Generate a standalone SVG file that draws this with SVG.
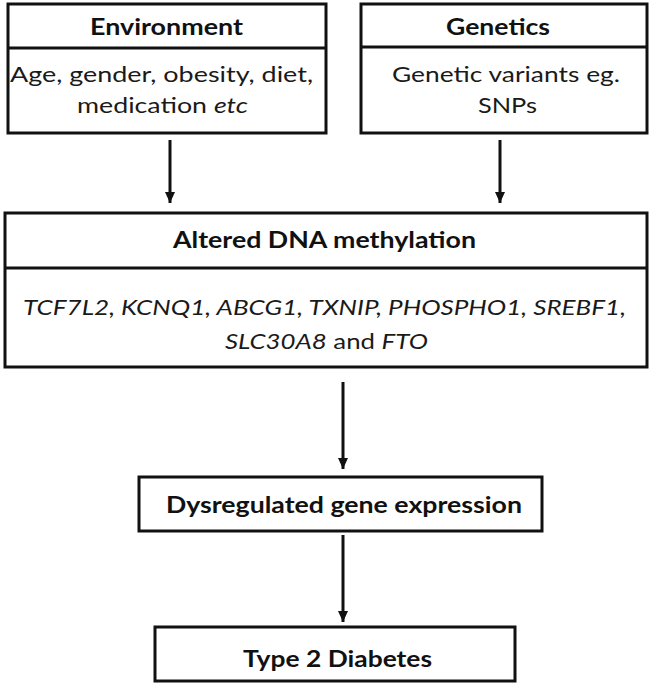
<svg xmlns="http://www.w3.org/2000/svg" width="653" height="686" viewBox="0 0 653 686">
<defs>
<marker id="arr" markerUnits="userSpaceOnUse" markerWidth="12" markerHeight="12" viewBox="0 0 12 12" refX="11" refY="6" orient="auto">
<path d="M0,1 L11,6 L0,11 Z" fill="#111"/>
</marker>
<style>
.box{fill:#fff;stroke:#111;stroke-width:3}
.div{stroke:#111;stroke-width:3}
.t{font-family:Lato,"Open Sans","Liberation Sans",sans-serif;font-size:22px;fill:#1a1a1a}
.b{font-weight:bold;fill:#111}
.i{font-style:italic}
.c{stroke:#111;stroke-width:3;fill:none}
</style>
</defs>
<rect width="653" height="686" fill="#fff"/>
<g id="environment">
<rect class="box" x="8" y="4" width="318" height="129"/>
<line class="div" x1="8" y1="48" x2="326" y2="48"/>
<text class="t b" x="90" y="35" textLength="153" lengthAdjust="spacingAndGlyphs">Environment</text>
<text class="t" x="10" y="82" textLength="303" lengthAdjust="spacingAndGlyphs">Age, gender, obesity, diet,</text>
<text class="t" x="77" y="113" textLength="171" lengthAdjust="spacingAndGlyphs">medication <tspan class="i">etc</tspan></text>
</g>
<g id="genetics">
<rect class="box" x="361" y="4" width="286" height="129"/>
<line class="div" x1="361" y1="47" x2="647" y2="47"/>
<text class="t b" x="446" y="35" textLength="104" lengthAdjust="spacingAndGlyphs">Genetics</text>
<text class="t" x="392" y="82" textLength="228" lengthAdjust="spacingAndGlyphs">Genetic variants eg.</text>
<text class="t" x="478" y="113" textLength="59" lengthAdjust="spacingAndGlyphs">SNPs</text>
</g>
<g id="methylation">
<rect class="box" x="5" y="213" width="642" height="154"/>
<line class="div" x1="5" y1="268" x2="647" y2="268"/>
<text class="t b" x="173" y="248" textLength="303" lengthAdjust="spacingAndGlyphs">Altered DNA methylation</text>
<text class="t i" x="23" y="315" textLength="603" lengthAdjust="spacingAndGlyphs">TCF7L2, KCNQ1, ABCG1, TXNIP, PHOSPHO1, SREBF1,</text>
<text class="t" x="225" y="349" textLength="203" lengthAdjust="spacingAndGlyphs"><tspan class="i">SLC30A8</tspan> and <tspan class="i">FTO</tspan></text>
</g>
<g id="expression">
<rect class="box" x="139" y="477" width="403" height="54"/>
<text class="t b" x="166" y="513" textLength="356" lengthAdjust="spacingAndGlyphs">Dysregulated gene expression</text>
</g>
<g id="t2d">
<rect class="box" x="155" y="627" width="360" height="54"/>
<text class="t b" x="243" y="667" textLength="189" lengthAdjust="spacingAndGlyphs">Type 2 Diabetes</text>
</g>
<g id="connectors">
<line class="c" x1="170" y1="140" x2="170" y2="203" marker-end="url(#arr)"/>
<line class="c" x1="500" y1="140" x2="500" y2="203" marker-end="url(#arr)"/>
<line class="c" x1="343" y1="382" x2="343" y2="469" marker-end="url(#arr)"/>
<line class="c" x1="343" y1="535" x2="343" y2="622" marker-end="url(#arr)"/>
</g>
</svg>
